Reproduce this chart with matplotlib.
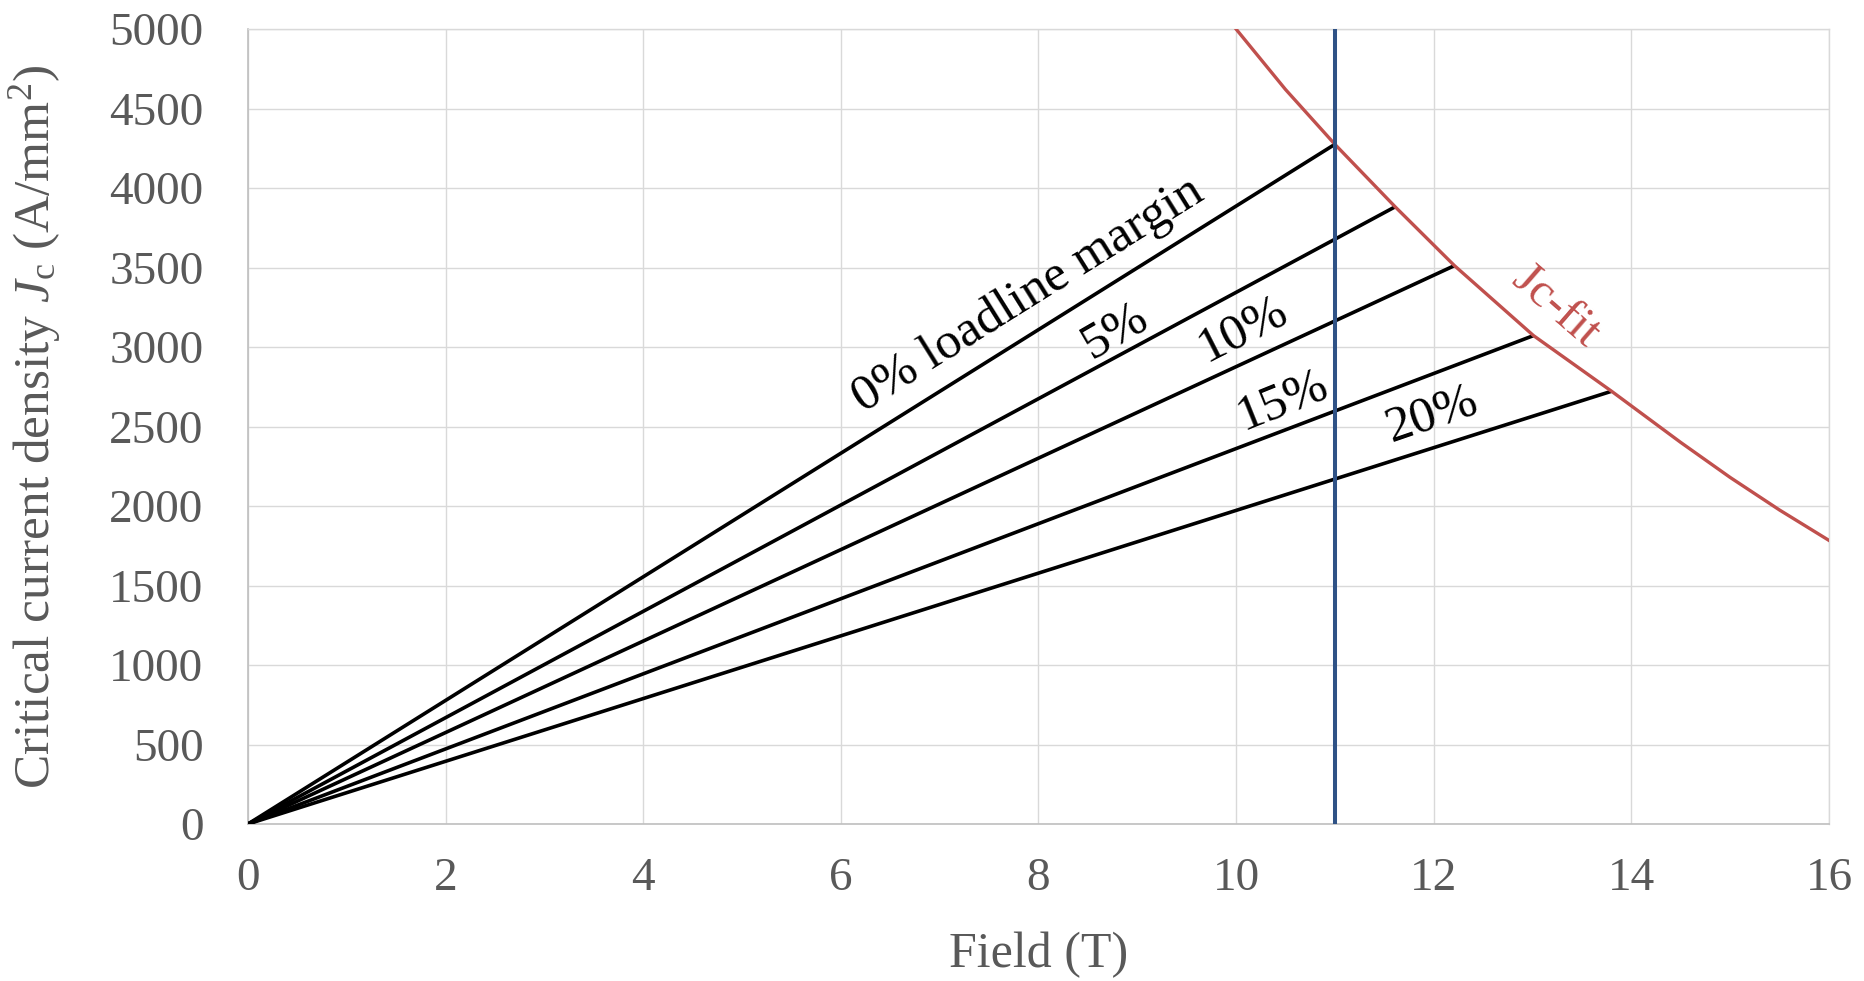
import matplotlib
matplotlib.use("Agg")
import matplotlib.pyplot as plt

plt.rcParams['font.family'] = ['Liberation Serif', 'DejaVu Serif']
plt.rcParams['mathtext.fontset'] = 'custom'
plt.rcParams['mathtext.rm'] = 'Liberation Serif'
plt.rcParams['mathtext.it'] = 'Liberation Serif:italic'

# load lines: straight from origin to the Jc-fit curve
margins = ['0% loadline margin', '5%', '10%', '15%', '20%']
line_x_end = [11.0, 11.61, 12.21, 13.01, 13.80]
line_y_end = [4275, 3882, 3512, 3072, 2722]

# Jc fit curve
fit_x = [10.0, 10.5, 11.0, 11.61, 12.21, 13.01, 13.80, 14.5, 15.0, 15.5, 16.0]
fit_y = [5000, 4620, 4275, 3882, 3512, 3072, 2722, 2400, 2180, 1975, 1784]

op_field = 11.0

# label positions (data coords) and rotation
label_x = [7.90, 8.78, 10.07, 10.47, 11.98]
label_y = [3326, 3102, 3109, 2661, 2578]
label_rot = [32, 30, 27, 22, 19]

grey = '#595959'
grid = '#D9D9D9'

fig = plt.figure(figsize=(18.64, 9.81), dpi=100)
ax = fig.add_axes([0.1330, 0.1600, 0.8482, 0.8104])

for xe, ye in zip(line_x_end, line_y_end):
    ax.plot([0, xe], [0, ye], color='black', linewidth=2.6, solid_capstyle='butt', zorder=3)

ax.plot(fit_x, fit_y, color='#C0504D', linewidth=2.4, zorder=3)
ax.plot([op_field, op_field], [0, 5000], color='#2F5286', linewidth=2.9, zorder=4)

for txt, lx, ly, r in zip(margins, label_x, label_y, label_rot):
    ax.text(lx, ly, txt, fontsize=37, rotation=r, rotation_mode='anchor',
            ha='center', va='center', color='black', zorder=5)
ax.text(13.23, 3251, 'Jc-fit', fontsize=35, rotation=-41, rotation_mode='anchor',
        ha='center', va='center', color='#C0504D', zorder=5)

ax.set_xlim(0, 16)
ax.set_ylim(0, 5000)
ax.set_xticks(range(0, 17, 2))
ax.set_yticks(range(0, 5001, 500))
ax.grid(True, color=grid, linewidth=1.0)
ax.set_axisbelow(True)
for s in ['top', 'right']:
    ax.spines[s].set_color(grid)
    ax.spines[s].set_linewidth(1.0)
for s in ['left', 'bottom']:
    ax.spines[s].set_color('#BFBFBF')
    ax.spines[s].set_linewidth(1.2)

ax.tick_params(axis='both', length=0, labelsize=34, labelcolor=grey)
ax.tick_params(axis='x', pad=24)
ax.tick_params(axis='y', pad=32)

ax.set_xlabel('Field (T)', fontsize=36, color=grey)
ax.set_ylabel(r'Critical current density $J_{\mathrm{c}}$ (A/mm$^2$)', fontsize=37, color=grey)
ax.xaxis.set_label_coords(0.5, -0.135)
ax.yaxis.set_label_coords(-0.117, 0.5)

fig.savefig('out.png', dpi=100)
